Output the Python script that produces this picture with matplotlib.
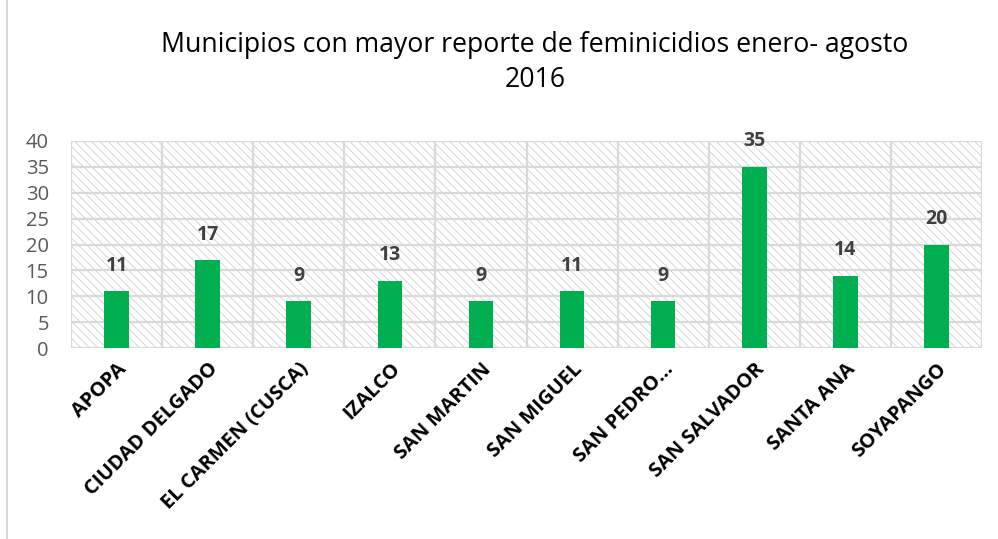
import matplotlib.pyplot as plt
import matplotlib as mpl
from matplotlib.patches import Rectangle
from matplotlib.lines import Line2D

plt.rcParams['font.family'] = ['Open Sans', 'DejaVu Sans']
mpl.rcParams['hatch.color'] = '#c8c8c8'
mpl.rcParams['hatch.linewidth'] = 0.6

# datos
municipios = ['APOPA', 'CIUDAD DELGADO', 'EL CARMEN (CUSCA)', 'IZALCO', 'SAN MARTIN',
              'SAN MIGUEL', 'SAN PEDRO…', 'SAN SALVADOR', 'SANTA ANA', 'SOYAPANGO']
casos = [11, 17, 9, 13, 9, 11, 9, 35, 14, 20]
yticks = [0, 5, 10, 15, 20, 25, 30, 35, 40]

fig = plt.figure(figsize=(9.98, 5.39), dpi=100)
ax = fig.add_axes([71/998, 1 - 348/539, (982-71)/998, (348-141)/539])

# fondo con trama
ax.add_patch(Rectangle((0, 0), 1, 1, transform=ax.transAxes, facecolor='white',
                       hatch='\\\\\\\\', edgecolor='#cfcfcf', linewidth=0, zorder=0))

x = list(range(len(municipios)))
ax.bar(x, casos, width=0.27, color='#00b050', zorder=3)
for xi, v in zip(x, casos):
    ax.text(xi, v + 3.0, str(v), ha='center', va='bottom', fontsize=14,
            fontweight='bold', color='#404040', zorder=4)

ax.set_xlim(-0.5, len(municipios) - 0.5)
ax.set_ylim(0, 40)
ax.set_yticks(yticks)
ax.set_yticklabels([str(t) for t in yticks], fontsize=14.5, color='#595959')
ax.set_xticks(x)
ax.set_xticklabels(municipios, rotation=45, ha='right', rotation_mode='anchor',
                   fontsize=14.5, fontweight='bold', color='black')
ax.tick_params(axis='both', length=0)
ax.tick_params(axis='x', pad=8)
ax.tick_params(axis='y', pad=16)

for t in yticks:
    ax.axhline(t, color='#d9d9d9', lw=1.6, zorder=1)
for b in range(len(municipios) + 1):
    ax.axvline(b - 0.5, color='#d9d9d9', lw=1.6, zorder=1)
for s in ax.spines.values():
    s.set_visible(False)

fig.text(535/998, 1 - 45/539, 'Municipios con mayor reporte de feminicidios enero- agosto',
         ha='center', va='center', fontsize=19.2, color='black')
fig.text(535/998, 1 - 80/539, '2016', ha='center', va='center', fontsize=19.2, color='black')

fig.add_artist(Line2D([7/998, 7/998], [0, 1], transform=fig.transFigure,
                      color='#d9d9d9', lw=1.5))

fig.savefig('out.png', dpi=100)
